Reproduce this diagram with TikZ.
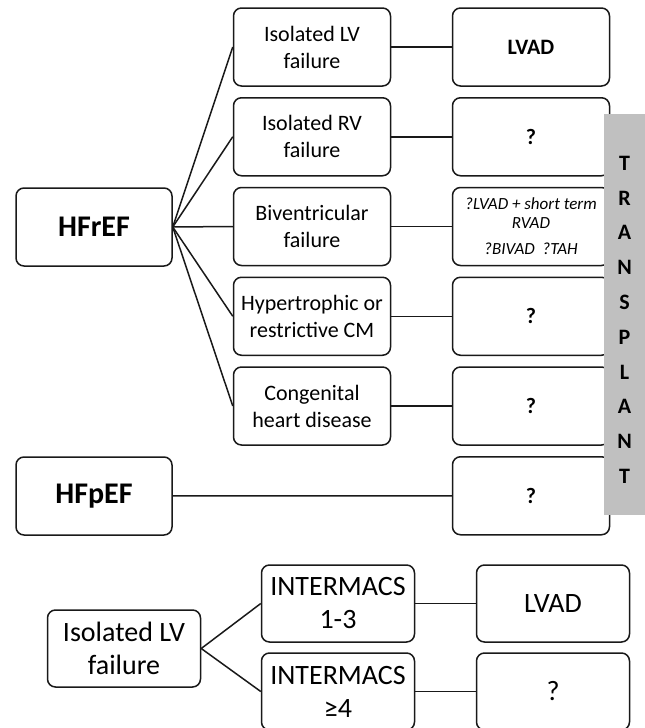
\documentclass[tikz,border=0pt]{standalone}
\usepackage{fontspec}
\setmainfont{Carlito}
\usetikzlibrary{positioning}
\definecolor{linegray}{RGB}{25,25,25}
\definecolor{bargray}{RGB}{192,192,192}
\tikzset{
  block/.style={
    draw=linegray,
    fill=white,
    rounded corners=8pt,
    line width=1.5pt,
    align=center,
    minimum width=157pt,
    minimum height=78pt,
    inner sep=2pt
  },
  cause/.style={block, font=\fontsize{22}{27}\selectfont},
  therapy/.style={block, font=\fontsize{22}{27}\selectfont\bfseries},
  option/.style={block, font=\fontsize{17}{19}\selectfont\itshape},
  root/.style={block, minimum width=156pt, font=\fontsize{30}{36}\selectfont\bfseries},
  big/.style={block, minimum width=153pt, minimum height=77pt, font=\fontsize{28}{33}\selectfont},
  bar/.style={fill=bargray, minimum width=41pt, minimum height=401pt, inner sep=0pt,
    align=center, font=\fontsize{22}{34.8}\selectfont\bfseries},
  link/.style={draw=linegray, line width=1.5pt}
}

\begin{document}
\begin{tikzpicture}[x=1pt, y=-1pt, node distance=10.25pt and 60.5pt]
  \useasboundingbox (0,0) rectangle (645,728);

  % heart failure types
  \node[cause] (lv) at (312,47) {Isolated LV\\failure};
  \node[cause, below=of lv] (rv) {Isolated RV\\failure};
  \node[cause, below=of rv] (biv) {Biventricular\\failure};
  \node[cause, below=of biv] (hcm) {Hypertrophic or\\restrictive CM};
  \node[cause, below=of hcm] (chd) {Congenital\\heart disease};

  \node[therapy, right=of lv] (lvad) {LVAD};
  \node[therapy, right=of rv] (rvq) {?};
  \node[option, right=of biv] (bivq) {?LVAD + short term\\RVAD\\[7pt]?BIVAD\ \ ?TAH};
  \node[therapy, right=of hcm] (hcmq) {?};
  \node[therapy, right=of chd] (chdq) {?};
  \node[therapy, below=of chdq] (pefq) {?};

  \node[root] (hfref) at (94,227) {HFrEF};
  \node[root] (hfpef) at (94,496) {HFpEF};

  \foreach \m in {lv,rv,biv,hcm,chd}
    \draw[link] (hfref.east) -- (\m.west);
  \draw[link] (lv) -- (lvad);
  \draw[link] (rv) -- (rvq);
  \draw[link] (biv) -- (bivq);
  \draw[link] (hcm) -- (hcmq);
  \draw[link] (chd) -- (chdq);
  \draw[link] (hfpef) -- (pefq);

  \node[bar] (transplant) at (624.5,314.5) {\\[-10pt]T\\R\\A\\N\\S\\P\\L\\A\\N\\T};

  % INTERMACS split
  \node[big] (ilv) at (124,648.5) {Isolated LV\\failure};
  \node[big] (im13) at (338,603.5) {INTERMACS\\1-3};
  \node[big, below=9.5pt of im13] (im4) {INTERMACS\\≥4};
  \node[big, right=of im13] (lvadb) {LVAD};
  \node[big, right=of im4] (im4q) {?};

  \draw[link] (ilv.east) -- (im13.west);
  \draw[link] (ilv.east) -- (im4.west);
  \draw[link] (im13) -- (lvadb);
  \draw[link] (im4) -- (im4q);
\end{tikzpicture}
\end{document}
